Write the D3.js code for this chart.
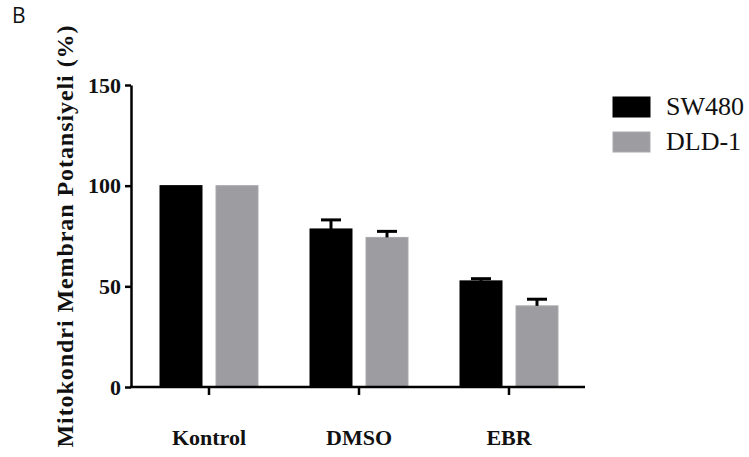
<!DOCTYPE html>
<html>
<head>
<meta charset="utf-8">
<script src="https://cdn.jsdelivr.net/npm/d3@7"></script>
<style>
  html, body { margin: 0; padding: 0; background: #fff; }
  svg { display: block; }
  .serif { font-family: "Liberation Serif", "Times New Roman", Times, serif; }
</style>
</head>
<body>
<svg id="chart" width="749" height="457"></svg>
<script>
// Treatment groups and cell lines
const categories = ["Kontrol", "DMSO", "EBR"];
const series = ["SW480", "DLD-1"];
// Mean mitochondrial membrane potential (%) per cell line
const sw480Values = [100, 78.5, 52.7];
const dld1Values = [100, 74.3, 40.3];
// Error (upper whisker length)
const sw480Errors = [0, 4.5, 1.1];
const dld1Errors = [0, 3.0, 3.3];
const yTicks = [0, 50, 100, 150];

const colors = { "SW480": "#000000", "DLD-1": "#9d9da1" };

const svg = d3.select("#chart");

const y = d3.scaleLinear().domain([0, 150]).range([387, 85]);
const x0 = d3.scaleBand().domain(categories).range([134, 584]).padding(0);
const x1 = d3.scaleBand().domain(series).range([26, 124]).paddingInner(0.25).paddingOuter(0);

const rows = categories.map((c, i) => ({
  cat: c,
  vals: [
    { s: "SW480", v: sw480Values[i], e: sw480Errors[i] },
    { s: "DLD-1", v: dld1Values[i], e: dld1Errors[i] }
  ]
}));

// Bars
const groups = svg.append("g").selectAll("g").data(rows).join("g")
  .attr("transform", d => `translate(${x0(d.cat)},0)`);

groups.selectAll("rect").data(d => d.vals).join("rect")
  .attr("x", d => x1(d.s))
  .attr("width", x1.bandwidth())
  .attr("y", d => y(d.v))
  .attr("height", d => y(0) - y(d.v))
  .attr("fill", d => colors[d.s])
  .attr("stroke", d => d.s === "SW480" ? "#000" : "#aaaaae")
  .attr("stroke-width", 1);

// Error bars (upper only)
const errs = groups.selectAll("g.err").data(d => d.vals.filter(v => v.e > 0)).join("g")
  .attr("class", "err");
errs.append("line")
  .attr("x1", d => x1(d.s) + x1.bandwidth() / 2)
  .attr("x2", d => x1(d.s) + x1.bandwidth() / 2)
  .attr("y1", d => y(d.v))
  .attr("y2", d => y(d.v + d.e))
  .attr("stroke", "#000").attr("stroke-width", 3);
errs.append("line")
  .attr("x1", d => x1(d.s) + x1.bandwidth() / 2 - 10)
  .attr("x2", d => x1(d.s) + x1.bandwidth() / 2 + 10)
  .attr("y1", d => y(d.v + d.e))
  .attr("y2", d => y(d.v + d.e))
  .attr("stroke", "#000").attr("stroke-width", 3);

// Y axis
const yAxis = svg.append("g")
  .attr("transform", "translate(131,0)")
  .call(d3.axisLeft(y).tickValues(yTicks).tickSize(6).tickPadding(4).tickSizeOuter(0));
yAxis.attr("font-family", null).attr("font-size", null);
yAxis.select(".domain").attr("stroke", "#000").attr("stroke-width", 2.5);
yAxis.selectAll(".tick line").attr("stroke", "#000").attr("stroke-width", 2.5);
yAxis.selectAll(".tick text")
  .attr("class", "serif")
  .style("font-weight", "bold").style("font-size", "22px").attr("fill", "#111");

// X axis
const xAxis = svg.append("g")
  .attr("transform", "translate(0,387)")
  .call(d3.axisBottom(x0).tickSize(8).tickPadding(34).tickSizeOuter(0));
xAxis.attr("font-family", null).attr("font-size", null);
xAxis.select(".domain").attr("d", "M130,0H585").attr("stroke", "#000").attr("stroke-width", 2.5);
xAxis.selectAll(".tick line").attr("stroke", "#000").attr("stroke-width", 2.5);
xAxis.selectAll(".tick text")
  .attr("class", "serif")
  .style("font-weight", "bold").style("font-size", "22px").attr("fill", "#111");

// Y axis title
svg.append("text")
  .attr("class", "serif")
  .attr("transform", "translate(73,236.5) rotate(-90)")
  .attr("text-anchor", "middle")
  .style("font-weight", "bold").style("font-size", "24px")
  .attr("textLength", 422).attr("lengthAdjust", "spacing")
  .attr("fill", "#111")
  .text("Mitokondri Membran Potansiyeli (%)");

// Legend
const legend = svg.append("g").selectAll("g").data(series).join("g")
  .attr("transform", (d, i) => `translate(613,${97 + i * 35})`);
legend.append("rect")
  .attr("width", 37).attr("height", 20)
  .attr("fill", d => colors[d])
  .attr("stroke", d => d === "SW480" ? "#000" : "#aaaaae");
legend.append("text")
  .attr("class", "serif")
  .attr("x", 53).attr("y", 18)
  .style("font-size", "26px").attr("fill", "#111")
  .text(d => d);

// Panel letter
svg.append("text")
  .attr("x", 12).attr("y", 23)
  .style("font-family", "'Open Sans', 'Noto Sans', sans-serif").style("font-size", "21px")
  .attr("fill", "#111")
  .text("B");
</script>
</body>
</html>
